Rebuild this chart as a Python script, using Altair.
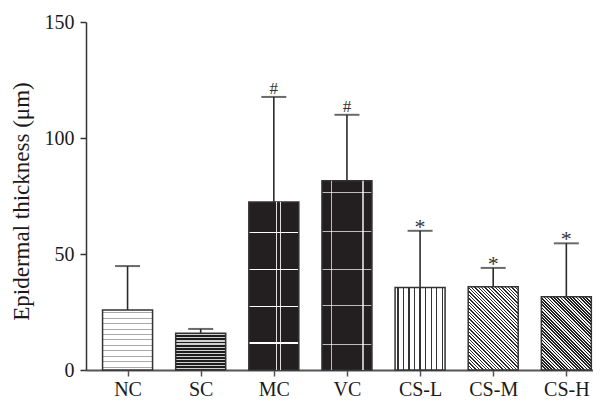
import altair as alt
import pandas as pd

# ---- data ----
groups = ["NC", "SC", "MC", "VC", "CS-L", "CS-M", "CS-H"]
means = [25.9, 15.8, 72.4, 81.6, 35.6, 35.9, 31.6]
errors = [18.9, 1.9, 45.3, 28.4, 24.4, 8.1, 23.0]
marks = ["", "", "#", "#", "*", "*", "*"]

# ---- geometry / style constants ----
Y_MAX = 150
PLOT_W, PLOT_H = 507, 348
BAR_W = 50
PX_PER_UNIT = PLOT_H / Y_MAX
X_DOMAIN = [-0.5, -0.5 + PLOT_W / 74.6]
SERIF = "Liberation Serif"
INK = "#2a2a2a"


def line_stops(bg, fg, centers, half):
    stops = [{"offset": 0, "color": bg}]
    for c in centers:
        a, b = max(0.0, c - half), min(1.0, c + half)
        if b <= 0 or a >= 1:
            continue
        stops += [{"offset": a, "color": bg}, {"offset": a, "color": fg},
                  {"offset": b, "color": fg}, {"offset": b, "color": bg}]
    stops.append({"offset": 1, "color": bg})
    return stops


def periodic(n, phase=0.5):
    return [(k + phase) / n for k in range(n)]


def horiz(bg, fg, h, period, thick, phase=0.5):
    n = max(1, round(h / period))
    return {"gradient": "linear", "x1": 0, "y1": 0, "x2": 0, "y2": 1,
            "stops": line_stops(bg, fg, periodic(n, phase), thick / h / 2)}


def vert(bg, fg, w, period, thick):
    n = max(1, round(w / period))
    return {"gradient": "linear", "x1": 0, "y1": 0, "x2": 1, "y2": 0,
            "stops": line_stops(bg, fg, periodic(n), thick / w / 2)}


def diag_back(bg, fg, w, h, period, thick):
    # lines running top-left -> bottom-right
    r = h / w
    span = w * (1 + r * r)
    n = max(1, round(span / period))
    return {"gradient": "linear", "x1": 0, "y1": 1, "x2": 1, "y2": 1 - r,
            "stops": line_stops(bg, fg, periodic(n), thick / span / 2)}


def lines_at(bg, fg, fracs, thick_frac, direction):
    return {"gradient": "linear", "x1": 0, "y1": 0,
            "x2": 1 if direction == "v" else 0, "y2": 1 if direction == "h" else 0,
            "stops": line_stops(bg, fg, fracs, thick_frac / 2)}


heights = [m * PX_PER_UNIT for m in means]
BLACK = "#231f20"
CLEAR = "rgba(0,0,0,0)"

base_fill = {
    "NC": horiz("#ffffff", "#a8a8a8", heights[0], 5.5, 1.0),
    "SC": horiz("#1e1e1e", "#d0d0d0", heights[1], 3.0, 1.1),
    "MC": lines_at(BLACK, "#ffffff", [0.18, 0.40, 0.62, 0.84], 1.3 / heights[2], "h"),
    "VC": lines_at(BLACK, "#bdbdbd", [0.063, 0.27, 0.467, 0.66, 0.863], 1.1 / heights[3], "h"),
    "CS-L": vert("#ffffff", "#333333", BAR_W, 5.6, 1.3),
    "CS-M": diag_back("#ffffff", "#2b2b2b", BAR_W, heights[5], 3.4, 1.4),
    "CS-H": diag_back("#f4f4f4", "#1f1f1f", BAR_W, heights[6], 3.2, 1.7),
}
overlay_fill = {
    "MC": lines_at(CLEAR, "rgba(255,255,255,0.85)", [0.555, 0.64], 1.2 / BAR_W, "v"),
    "VC": lines_at(CLEAR, "rgba(255,255,255,0.7)", [0.18, 0.835], 1.2 / BAR_W, "v"),
}

df = pd.DataFrame({
    "idx": list(range(len(groups))),
    "group": groups,
    "mean": means,
    "err": errors,
    "mark": marks,
})
df["top"] = df["mean"] + df["err"]

label_expr = "[" + ",".join("'%s'" % g for g in groups) + "][datum.value]"

x_enc = alt.X("idx:Q",
              scale=alt.Scale(domain=X_DOMAIN, nice=False, zero=False),
              axis=alt.Axis(values=list(range(len(groups))), labelExpr=label_expr,
                            title=None, grid=False, tickSize=6, labelPadding=3,
                            labelFontSize=20, labelFont=SERIF, labelColor="#1a1a1a",
                            domainColor="#555555", tickColor="#555555",
                            domainWidth=1.8, tickWidth=1.5))
y_scale = alt.Scale(domain=[0, Y_MAX], nice=False)
y_enc = alt.Y("mean:Q", scale=y_scale,
              axis=alt.Axis(values=[0, 50, 100, 150], title="Epidermal thickness (μm)",
                            grid=False, tickSize=6, labelPadding=6,
                            labelFontSize=20, labelFont=SERIF, labelColor="#1a1a1a",
                            titleFontSize=23, titleFont=SERIF, titleFontWeight="normal",
                            titleColor="#1a1a1a", titleAngle=270, titleAlign="center",
                            titleBaseline="alphabetic", titleX=-58, titleY=179,
                            domainColor="#333333", tickColor="#333333",
                            domainWidth=1.5, tickWidth=1.5))

base = alt.Chart(df)

whisker = base.mark_rule(color=INK, strokeWidth=1.6).encode(
    x=x_enc, y=alt.Y("mean:Q", scale=y_scale), y2="top:Q")
cap = base.mark_tick(orient="horizontal", size=25, thickness=2, color=INK).encode(
    x=x_enc, y=alt.Y("top:Q", scale=y_scale))

layers = [whisker, cap]
for g in groups:
    layers.append(
        base.transform_filter(alt.datum.group == g)
        .mark_bar(size=BAR_W, fill=base_fill[g], stroke="#333333", strokeWidth=1.5)
        .encode(x=x_enc, y=y_enc, y2=alt.datum(0))
    )
for g, fill in overlay_fill.items():
    layers.append(
        base.transform_filter(alt.datum.group == g)
        .mark_bar(size=BAR_W - 2, fill=fill, strokeWidth=0)
        .encode(x=x_enc, y=alt.Y("mean:Q", scale=y_scale), y2=alt.datum(0))
    )

hash_txt = base.transform_filter(alt.datum.mark == "#").mark_text(
    font=SERIF, fontSize=17, color="#333333", baseline="alphabetic", dy=-3
).encode(x=x_enc, y=alt.Y("top:Q", scale=y_scale), text="mark:N")
star_txt = base.transform_filter(alt.datum.mark == "*").mark_text(
    font=SERIF, fontSize=22, color="#333333", baseline="alphabetic", dy=3
).encode(x=x_enc, y=alt.Y("top:Q", scale=y_scale), text="mark:N")
layers += [hash_txt, star_txt]

chart = alt.layer(*layers).properties(
    width=PLOT_W, height=PLOT_H,
    autosize=alt.AutoSizeParams(type="none"),
    padding={"left": 78, "top": 14, "right": 0, "bottom": 28},
    background="white",
).configure_view(stroke=None)

chart.save("out.html", embed_options={"renderer": "svg", "actions": False})
